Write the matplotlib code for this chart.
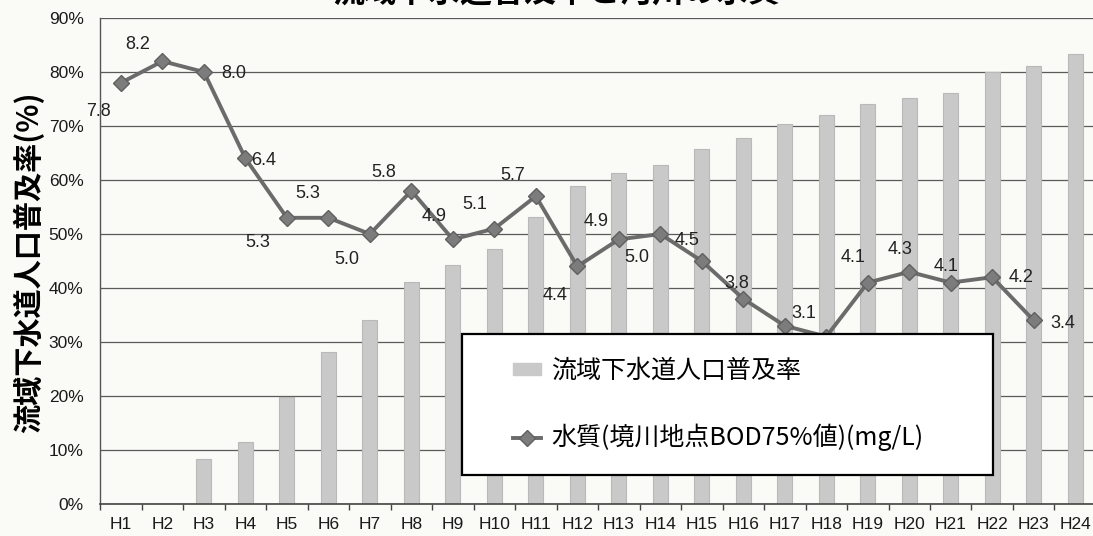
import numpy as np
import matplotlib
matplotlib.use("Agg")
import matplotlib.pyplot as plt
from matplotlib.patches import Patch
from matplotlib.lines import Line2D
from matplotlib.legend_handler import HandlerPatch, HandlerLine2D

plt.rcParams['font.family'] = ['Liberation Sans', 'Noto Sans CJK JP']

# -----------------------------
# DATA
# -----------------------------
years = ['H%d' % i for i in range(1, 25)]
coverage = [0, 0, 8.3, 11.5, 19.8, 28.2, 34.0, 41.2, 44.2, 47.3, 53.2, 58.8,
            61.3, 62.8, 65.8, 67.7, 70.3, 72.1, 74.1, 75.1, 76.2, 80.0, 81.1, 83.3]
bod = [7.8, 8.2, 8.0, 6.4, 5.3, 5.3, 5.0, 5.8, 4.9, 5.1, 5.7, 4.4,
       4.9, 5.0, 4.5, 3.8, 3.3, 3.1, 4.1, 4.3, 4.1, 4.2, 3.4]
yticks = [0, 10, 20, 30, 40, 50, 60, 70, 80, 90]

title = '流域下水道普及率と河川の水質'
ylabel = '流域下水道人口普及率(%)'
bar_label = '流域下水道人口普及率'
line_label = '水質(境川地点BOD75%値)(mg/L)'

# label offsets (pixels) for the BOD values; None = label hidden under the legend
label_offsets = [(-22, -29), (-25, 17), (30, -1), (18, -2), (-29, -25), (-21, 24),
                 (-23, -25), (-28, 18), (-19, 23), (-20, 24), (-23, 21), (-22, -29),
                 (-23, 18), (-24, -23), (-15, 21), (-7, 15), None, (-22, 23),
                 (-15, 25), (-9, 22), (-5, 16), (29, 0), (29, -3)]

# -----------------------------
# PLOT
# -----------------------------
bg = '#fafaf6'
fig = plt.figure(figsize=(10.93, 5.36), dpi=100, facecolor=bg)
ax = fig.add_axes([0.0917, 0.0597, 0.911, 0.9067])
ax.set_facecolor(bg)

x = np.arange(len(years))
ax.bar(x, coverage, width=0.36, color='#c9c9c9', edgecolor='#b9b9b9',
       linewidth=0.8, zorder=2)

xl = np.arange(len(bod))
yl = np.array(bod) * 10
ax.plot(xl, yl, color='#6b6b6b', linewidth=2.8, marker='D', markersize=8.5,
        markerfacecolor='#7c7c7c', markeredgecolor='#606060', zorder=3)

for xi, v, yi, off in zip(xl, bod, yl, label_offsets):
    if off is None:
        continue
    ax.annotate('%.1f' % v, (xi, yi), xytext=off, textcoords='offset pixels',
                ha='center', va='center', fontsize=13, color='#222222', zorder=4)

ax.set_xlim(-0.5, len(years) - 0.5)
ax.set_ylim(0, 90)
ax.set_yticks(yticks)
ax.set_yticklabels(['%d%%' % t for t in yticks])
ax.set_xticks(x)
ax.set_xticklabels(years)
ax.set_xticks(np.arange(-0.5, len(years), 1.0), minor=True)
ax.tick_params(axis='x', which='major', length=0, pad=9, labelsize=12.5,
               labelcolor='#1a1a1a')
ax.tick_params(axis='x', which='minor', length=4, width=1, color='#444444',
               direction='out')
ax.tick_params(axis='y', length=0, pad=12, labelsize=12.5, labelcolor='#1a1a1a')

ax.grid(axis='y', color='#5a5a5a', linewidth=0.9, zorder=1)
ax.set_axisbelow(True)
for s in ['top', 'right']:
    ax.spines[s].set_visible(False)
ax.spines['left'].set_color('#555555')
ax.spines['bottom'].set_color('#444444')
ax.spines['left'].set_linewidth(1.0)
ax.spines['bottom'].set_linewidth(1.2)

handles = [Patch(facecolor='#c9c9c9', edgecolor='#c9c9c9'),
           Line2D([0], [0], color='#6b6b6b', linewidth=2.8, marker='D',
                  markersize=8.5, markerfacecolor='#7c7c7c',
                  markeredgecolor='#606060')]
leg = ax.legend(handles, [bar_label, line_label], loc='lower left',
                bbox_to_anchor=(0.3633, 0.0597, 0.5333, 0.286), mode='expand',
                borderaxespad=0, prop={'family': ['Noto Sans CJK JP'], 'size': 18},
                labelspacing=1.6, borderpad=0.95, handlelength=2.22,
                handleheight=0.4, handletextpad=0.4, fancybox=False,
                framealpha=1, edgecolor='black', facecolor='white',
                handler_map={Patch: HandlerPatch(xpad=1.1),
                             Line2D: HandlerLine2D(xpad=1.1)})
leg.get_frame().set_linewidth(1.6)
leg.set_zorder(5)

fig.text(0.026, 0.51, ylabel, rotation=90, ha='center', va='center',
         fontsize=21, fontweight='bold', family=['Noto Sans CJK JP'])
fig.text(0.509, 1.013, title, ha='center', va='center', fontsize=23,
         fontweight='bold', family=['Noto Sans CJK JP'])

fig.savefig('out.png', dpi=100, facecolor=bg)
